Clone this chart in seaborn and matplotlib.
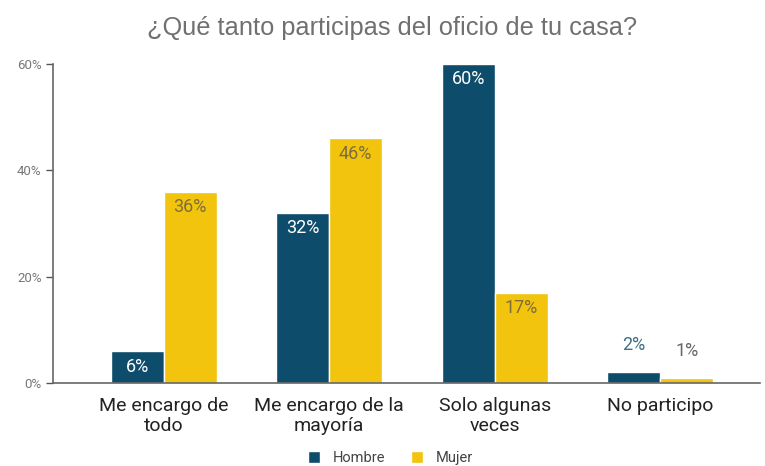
import matplotlib
matplotlib.use("Agg")
import matplotlib.pyplot as plt
import seaborn as sns
import pandas as pd
from matplotlib.ticker import FuncFormatter

categorias = ["Me encargo de\ntodo", "Me encargo de la\nmayoría", "Solo algunas\nveces", "No participo"]
hombre = [6, 32, 60, 2]
mujer = [36, 46, 17, 1]
generos = ["Hombre", "Mujer"]
colores = {"Hombre": "#0d4d6b", "Mujer": "#f2c40d"}

df = pd.DataFrame({
    "categoria": categorias * 2,
    "genero": ["Hombre"] * len(categorias) + ["Mujer"] * len(categorias),
    "valor": hombre + mujer,
})

sns.set_theme(style="white")
plt.rcParams["font.family"] = ["Roboto", "DejaVu Sans"]

fig = plt.figure(figsize=(7.65, 4.66), dpi=100)
ax = fig.add_axes([0.069, 0.178, 0.924, 0.685])

sns.barplot(data=df, x="categoria", y="valor", hue="genero", hue_order=generos,
            palette=colores, width=0.64, saturation=1, ax=ax, legend=True)

ax.set_ylim(0, 60)
ax.set_xlim(-0.67, 3.6)
ax.set_yticks([0, 20, 40, 60])
ax.yaxis.set_major_formatter(FuncFormatter(lambda v, _: f"{v:.0f}%"))
ax.tick_params(axis="y", labelsize=9.5, labelcolor="#777777", length=5, width=1,
               color="#555555", left=True, pad=3)
ax.tick_params(axis="x", labelsize=14, labelcolor="#222222", length=0, pad=10)
for lbl in ax.get_xticklabels():
    lbl.set_linespacing(1.15)
ax.set_xlabel("")
ax.set_ylabel("")
for s in ["top", "right"]:
    ax.spines[s].set_visible(False)
ax.spines["left"].set_color("#666666")
ax.spines["bottom"].set_color("#666666")
ax.spines["left"].set_linewidth(1.2)
ax.spines["bottom"].set_linewidth(1.2)

# value labels: inside the bar when there is room, above it otherwise
inside_colors = {"Hombre": "white", "Mujer": "#7d6f3c"}
above_colors = {"Hombre": "#3f6f88", "Mujer": "#666666"}
above_offsets = {"Hombre": 5.2, "Mujer": 5.0}
for genero, cont in zip(generos, ax.containers):
    for bar in cont:
        h = bar.get_height()
        x = bar.get_x() + bar.get_width() / 2
        if h >= 5:
            ax.text(x, h - 1.2, f"{h:.0f}%", ha="center", va="top", fontsize=13,
                    color=inside_colors[genero])
        else:
            ax.text(x, h + above_offsets[genero], f"{h:.0f}%", ha="center", va="center",
                    fontsize=13, color=above_colors[genero])

leg = ax.legend(loc="upper center", bbox_to_anchor=(0.478, -0.19), ncol=2, frameon=False,
                fontsize=10.5, handlelength=0.8, handleheight=0.8, columnspacing=1.8,
                handletextpad=0.9, borderpad=0)
for t in leg.get_texts():
    t.set_color("#444444")

fig.suptitle("¿Qué tanto participas del oficio de tu casa?", x=0.513, y=0.965,
             fontsize=18.3, color="#707070", family=["Liberation Sans", "DejaVu Sans"])

fig.savefig("out.png", dpi=100, facecolor="white")
